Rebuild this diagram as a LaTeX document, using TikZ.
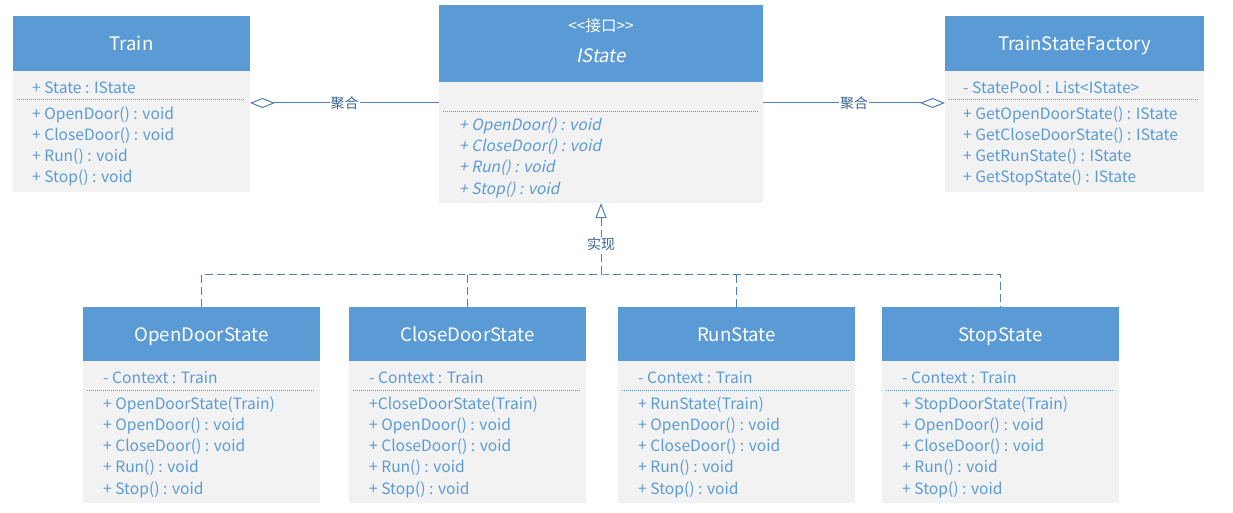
\documentclass[tikz,border=0pt]{standalone}
\usepackage{fontspec}
\setmainfont{Noto Sans CJK SC}
\newfontfamily\slantfont[FakeSlant=0.2]{Noto Sans CJK SC}
\usetikzlibrary{arrows.meta,calc}
\definecolor{hdrblue}{HTML}{5B9BD5}
\definecolor{bodygray}{HTML}{F2F2F2}
\definecolor{txtblue}{HTML}{5B9BD5}
\definecolor{linecol}{HTML}{5080B8}
\definecolor{lblcol}{HTML}{3B6593}
\newcommand{\titlefont}{\fontsize{18.6}{21}\selectfont}
\newcommand{\memfont}{\fontsize{15.6}{18}\selectfont}
\newcommand{\lblfont}{\fontsize{14}{16}\selectfont}
\newcommand{\stfont}{\fontsize{15.5}{18}\selectfont}
\tikzset{
  cls/.style={rectangle, inner sep=0pt, outer sep=0pt, anchor=north west},
  hdr/.style={cls, fill=hdrblue, text=white, font=\titlefont, text height=14pt, text depth=0pt},
  bdy/.style={cls, fill=bodygray},
  mem/.style={anchor=west, inner sep=0pt, text=txtblue, font=\memfont, text height=13pt, text depth=0pt},
  imem/.style={mem, font=\memfont\slantfont},
  sepline/.style={draw=txtblue, line width=0.6pt, dash pattern=on 1pt off 1pt},
  agg/.style={draw=linecol, line width=1pt, {Diamond[open,length=25pt,width=10pt]}-},
  real/.style={draw=linecol, line width=1pt, dash pattern=on 8pt off 4pt},
  lbl/.style={fill=white, inner sep=1pt, text=lblcol, font=\lblfont}
}
\begin{document}
\begin{tikzpicture}[x=1pt,y=-1pt]
\useasboundingbox[fill=white] (0,0) rectangle (1233,513);

% ---- Train ----
\node[hdr, minimum width=237pt, minimum height=55pt] (train-h) at (13,16) {Train};
\node[bdy, minimum width=237pt, minimum height=121pt] (train-b) at (train-h.south west) {};
\node[mem] (train-a1) at (32,87) {+ State : IState};
\draw[sepline] (17,99) -- (245,99);
\node[mem] (train-m1) at (32,113) {+ OpenDoor() : void};
\node[mem] (train-m2) at (32,134) {+ CloseDoor() : void};
\node[mem] (train-m3) at (32,155) {+ Run() : void};
\node[mem] (train-m4) at (32,176) {+ Stop() : void};

% ---- IState ----
\node[hdr, minimum width=324pt, minimum height=77pt] (ist-h) at (439,5) {};
\node[text=white, font=\stfont, inner sep=0pt] (ist-st) at (601,26) {{<}{<}接口{>}{>}};
\node[text=white, font=\titlefont\slantfont, inner sep=0pt] (ist-name) at (601,56) {IState};
\node[bdy, minimum width=324pt, minimum height=121pt] (ist-b) at (ist-h.south west) {};
\draw[sepline] (443,111) -- (758,111);
\node[imem] (ist-m1) at (459,124) {+ OpenDoor() : void};
\node[imem] (ist-m2) at (459,145) {+ CloseDoor() : void};
\node[imem] (ist-m3) at (459,166) {+ Run() : void};
\node[imem] (ist-m4) at (459,188) {+ Stop() : void};

% ---- TrainStateFactory ----
\node[hdr, minimum width=259pt, minimum height=55pt] (fac-h) at (945,16) {TrainStateFactory};
\node[bdy, minimum width=259pt, minimum height=121pt] (fac-b) at (fac-h.south west) {};
\node[mem] (fac-a1) at (963,87) {- StatePool : List<IState>};
\draw[sepline] (949,99) -- (1199,99);
\node[mem] (fac-m1) at (963,113) {+ GetOpenDoorState() : IState};
\node[mem] (fac-m2) at (963,134) {+ GetCloseDoorState() : IState};
\node[mem] (fac-m3) at (963,155) {+ GetRunState() : IState};
\node[mem] (fac-m4) at (963,176) {+ GetStopState() : IState};

% ---- concrete states ----
\foreach \nm/\x/\title/\ctor in {od/83/OpenDoorState/+ OpenDoorState(Train),cd/349/CloseDoorState/+CloseDoorState(Train),rs/618/RunState/+ RunState(Train),ss/882/StopState/+ StopDoorState(Train)}{
  \node[hdr, minimum width=237pt, minimum height=54pt] (\nm-h) at (\x,307) {\title};
  \node[bdy, minimum width=237pt, minimum height=142pt] (\nm-b) at (\nm-h.south west) {};
  \node[mem] (\nm-a1) at ([xshift=20pt,yshift=-16pt]\nm-b.north west) {- Context : Train};
  \draw[sepline] ([xshift=4pt,yshift=-29pt]\nm-b.north west) -- ([xshift=-5pt,yshift=-29pt]\nm-b.north east);
  \node[mem] (\nm-m0) at ([xshift=20pt,yshift=-42pt]\nm-b.north west) {\ctor};
  \node[mem] (\nm-m1) at ([xshift=20pt,yshift=-63pt]\nm-b.north west) {+ OpenDoor() : void};
  \node[mem] (\nm-m2) at ([xshift=20pt,yshift=-84pt]\nm-b.north west) {+ CloseDoor() : void};
  \node[mem] (\nm-m3) at ([xshift=20pt,yshift=-105pt]\nm-b.north west) {+ Run() : void};
  \node[mem] (\nm-m4) at ([xshift=20pt,yshift=-127pt]\nm-b.north west) {+ Stop() : void};
}

% ---- aggregation ----
\coordinate (aggL) at ([yshift=-32pt]train-b.north east);
\coordinate (aggR) at ([yshift=-32pt]fac-b.north west);
\draw[agg] (aggL) -- node[lbl] {聚合} (ist-b.west |- aggL);
\draw[agg] (aggR) -- node[lbl] {聚合} (ist-b.east |- aggR);

% ---- realization ----
\coordinate (hub) at ([yshift=-71pt]ist-b.south);
\draw[real, -{Triangle[open,length=15pt,width=11pt]}] (hub) -- node[lbl, pos=0.42] {实现} (ist-b.south);
\draw[real] (od-h.north) |- (hub) -| (ss-h.north);
\draw[real] (cd-h.north) -- (cd-h.north |- hub);
\draw[real] (rs-h.north) -- (rs-h.north |- hub);
\end{tikzpicture}
\end{document}
